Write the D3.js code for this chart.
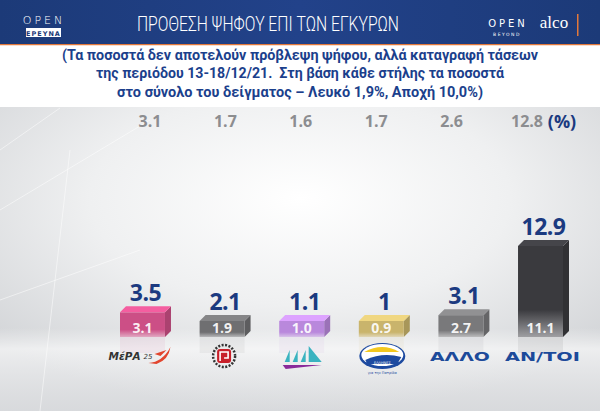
<!DOCTYPE html>
<html><head><meta charset="utf-8">
<script src="https://cdn.jsdelivr.net/npm/d3@7"></script>
<style>html,body{margin:0;padding:0;background:#fff;}svg{display:block;}</style>
</head><body>
<svg id="c" width="600" height="411"></svg>
<script>
const categories = ["ΜέΡΑ25", "Χρυσή Αυγή", "Νέα Δεξιά", "Έλληνες", "ΑΛΛΟ", "ΑΝ/ΤΟΙ"];
const totalValues = [3.5, 2.1, 1.1, 1, 3.1, 12.9];      // above the bars
const sampleValues = [3.1, 1.9, 1.0, 0.9, 2.7, 11.1];   // inside the bars
const previousValues = [3.1, 1.7, 1.6, 1.7, 2.6, 12.8]; // top grey row
const barColors = ["#cc4f86", "#6f6f71", "#b988dc", "#c9b46c", "#79797b", "#3a3a3e"];
const title = "ΠΡΟΘΕΣΗ ΨΗΦΟΥ ΕΠΙ ΤΩΝ ΕΓΚΥΡΩΝ";
const subtitle = ["(Τα ποσοστά δεν αποτελούν πρόβλεψη ψήφου, αλλά καταγραφή τάσεων",
                  "της περιόδου 13-18/12/21.\u00a0 Στη βάση κάθε στήλης τα ποσοστά",
                  "στο σύνολο του δείγματος – Λευκό 1,9%, Αποχή 10,0%)"];

const svg = d3.select("#c");
const W = 600, H = 411;
const defs = svg.append("defs");

// background
const bg = defs.append("radialGradient").attr("id","bg").attr("cx","0.5").attr("cy","0.3").attr("r","0.7");
bg.append("stop").attr("offset","0").attr("stop-color","#ffffff");
bg.append("stop").attr("offset","0.5").attr("stop-color","#eff0f1");
bg.append("stop").attr("offset","1").attr("stop-color","#d2d4d7");
svg.append("rect").attr("x",0).attr("y",107).attr("width",W).attr("height",H-107).attr("fill","url(#bg)");
const fl = defs.append("linearGradient").attr("id","floor").attr("x1",0).attr("y1",0).attr("x2",0).attr("y2",1);
fl.append("stop").attr("offset","0").attr("stop-color","#ffffff").attr("stop-opacity",0.0);
fl.append("stop").attr("offset","0.25").attr("stop-color","#ffffff").attr("stop-opacity",0.6);
fl.append("stop").attr("offset","1").attr("stop-color","#e6e7e9").attr("stop-opacity",0.3);
svg.append("rect").attr("x",0).attr("y",328).attr("width",W).attr("height",83).attr("fill","url(#floor)");
svg.append("path").attr("d","M0,150 L60,108 M0,210 L150,120 M40,411 L70,150 M0,300 L140,250")
  .attr("stroke","#ffffff").attr("stroke-opacity",0.5).attr("fill","none");

// header
const hg = defs.append("linearGradient").attr("id","hdr").attr("x1",0).attr("y1",0).attr("x2",1).attr("y2",0);
hg.append("stop").attr("offset","0").attr("stop-color","#1c3a78");
hg.append("stop").attr("offset","0.5").attr("stop-color","#22428a");
hg.append("stop").attr("offset","1").attr("stop-color","#1c3a78");
svg.append("rect").attr("x",0).attr("y",0).attr("width",W).attr("height",44).attr("fill","url(#hdr)");
svg.append("rect").attr("x",0).attr("y",44).attr("width",W).attr("height",1.5).attr("fill","#e2783a");
svg.append("rect").attr("x",0).attr("y",45.5).attr("width",W).attr("height",61.5).attr("fill","#ffffff");

svg.append("text").attr("x",268).attr("y",31).attr("text-anchor","middle")
  .attr("font-family","Roboto,sans-serif").attr("font-weight",300).attr("font-size",21)
  .attr("fill","#ffffff").attr("textLength",262).attr("lengthAdjust","spacingAndGlyphs").text(title);

// left logo OPEN ΕΡΕΥΝΑ
svg.append("text").attr("x",44).attr("y",24).attr("text-anchor","middle")
  .attr("font-family","'DejaVu Sans',sans-serif").attr("font-size",11).attr("letter-spacing",3)
  .attr("fill","#ffffff").attr("font-weight",300).text("OPEN");
svg.append("rect").attr("x",26).attr("y",28).attr("width",35).attr("height",9).attr("fill","#ffffff");
svg.append("text").attr("x",43.5).attr("y",35.5).attr("text-anchor","middle")
  .attr("font-family","'DejaVu Sans',sans-serif").attr("font-size",6.5).attr("font-weight","bold").attr("letter-spacing",1)
  .attr("fill","#1c3a78").text("ΕΡΕΥΝΑ");
// right logos
svg.append("text").attr("x",508).attr("y",27).attr("text-anchor","middle")
  .attr("font-family","'DejaVu Sans',sans-serif").attr("font-size",10).attr("letter-spacing",3)
  .attr("fill","#ffffff").text("OPEN");
svg.append("text").attr("x",507).attr("y",36).attr("text-anchor","middle")
  .attr("font-family","'DejaVu Sans',sans-serif").attr("font-size",4.5).attr("letter-spacing",1.5)
  .attr("fill","#ffffff").text("BEYOND");
svg.append("text").attr("x",554).attr("y",28).attr("text-anchor","middle")
  .attr("font-family","'Liberation Serif',serif").attr("font-size",17)
  .attr("fill","#ffffff").text("alco");
svg.append("rect").attr("x",577).attr("y",14).attr("width",1.5).attr("height",22).attr("fill","#e2783a");

// subtitle
const subY = [59.5, 78, 96.5];
const subW = [476, 408, 366];
svg.append("g").selectAll("text").data(subtitle).join("text")
  .attr("x",300).attr("y",(d,i)=>subY[i]).attr("text-anchor","middle")
  .attr("font-family","Roboto,sans-serif").attr("font-weight","bold").attr("font-size",15)
  .attr("fill","#1b3f8c").attr("textLength",(d,i)=>subW[i]).attr("lengthAdjust","spacingAndGlyphs")
  .text(d=>d);

// scales
const x = d3.scaleBand().domain(categories).range([120, 563]).paddingInner(0.435).paddingOuter(0);
const xPrev = d3.scalePoint().domain(categories).range([150, 527]);
const base = 337;
const y = d3.scaleLinear().domain([0, 12.9]).range([base, 246]);
const minH = 16;
const topY = v => Math.min(y(v), base - minH);
const depth = 6, rise = 6;

categories.forEach((c,i)=>{
  const g = defs.append("linearGradient").attr("id","bf"+i).attr("x1",0).attr("y1",0).attr("x2",0).attr("y2",1);
  const col = d3.color(barColors[i]);
  g.append("stop").attr("offset","0").attr("stop-color",col.formatHex());
  g.append("stop").attr("offset","0.7").attr("stop-color",col.formatHex());
  g.append("stop").attr("offset","1").attr("stop-color",d3.interpolateRgb(col,"#f2f2f3")(0.55));
});

const bars = svg.append("g").selectAll("g").data(categories).join("g");
bars.append("rect").attr("x",d=>x(d)).attr("y",base).attr("width",x.bandwidth()).attr("height",16)
  .attr("fill",(d,i)=>barColors[i]).attr("opacity",0.08);
bars.append("path").attr("d",(d,i)=>{
  const x1 = x(d)+x.bandwidth(), t = topY(totalValues[i]);
  return `M${x1},${t} L${x1+depth},${t-rise} L${x1+depth},${base-rise} L${x1},${base} Z`;
}).attr("fill",(d,i)=>d3.color(barColors[i]).darker(0.5));
bars.append("rect").attr("x",d=>x(d)).attr("y",(d,i)=>topY(totalValues[i]))
  .attr("width",x.bandwidth()).attr("height",(d,i)=>base-topY(totalValues[i]))
  .attr("fill",(d,i)=>`url(#bf${i})`);
bars.append("path").attr("d",(d,i)=>{
  const x0 = x(d), x1 = x0+x.bandwidth(), t = topY(totalValues[i]);
  return `M${x0},${t} L${x0+depth},${t-rise} L${x1+depth},${t-rise} L${x1},${t} Z`;
}).attr("fill",(d,i)=>d3.color(barColors[i]).brighter(0.5));
bars.append("text").attr("x",d=>x(d)+x.bandwidth()/2).attr("y",base-4).attr("text-anchor","middle")
  .attr("font-family","'Open Sans',sans-serif").attr("font-weight","bold").attr("font-size",14)
  .attr("fill","#ffffff").attr("fill-opacity",0.92).text((d,i)=>sampleValues[i].toFixed(1));
bars.append("text").attr("x",d=>x(d)+x.bandwidth()/2+3).attr("y",(d,i)=>topY(totalValues[i])-rise-5)
  .attr("text-anchor","middle")
  .attr("font-family","'Open Sans',sans-serif").attr("font-weight","bold").attr("font-size",23)
  .attr("fill","#1b3a80").attr("letter-spacing",-0.5).text((d,i)=>String(totalValues[i]));

// previous row
svg.append("g").selectAll("text").data(categories).join("text")
  .attr("x",d=>xPrev(d)).attr("y",127).attr("text-anchor","middle")
  .attr("font-family","'Open Sans',sans-serif").attr("font-weight","bold").attr("font-size",16)
  .attr("fill","#8c8d90").text((d,i)=>previousValues[i].toFixed(1));
svg.append("text").attr("x",562).attr("y",128).attr("text-anchor","middle")
  .attr("font-family","'Open Sans',sans-serif").attr("font-weight","bold").attr("font-size",18)
  .attr("fill","#1b3a80").text("(%)");

// party logos (approximations)
const ly = 356;
const logo = svg.append("g");
const cx = d => x(d)+x.bandwidth()/2;
const c0 = cx(categories[0]);
logo.append("text").attr("x",c0-34).attr("y",ly+4)
  .attr("font-family","'DejaVu Sans',sans-serif").attr("font-style","italic").attr("font-weight","bold")
  .attr("font-size",11).attr("fill","#333").attr("textLength",32).attr("lengthAdjust","spacingAndGlyphs").text("ΜέΡΑ");
logo.append("text").attr("x",c0+1).attr("y",ly+3).attr("font-family","'DejaVu Sans',sans-serif")
  .attr("font-size",7).attr("font-style","italic").attr("fill","#333").text("25");
logo.append("path").attr("d",`M${c0+6},${ly+7} Q${c0+20},${ly+6} ${c0+28},${ly-9} Q${c0+26},${ly+4} ${c0+14},${ly+8} Z`)
  .attr("fill","#e2452e");
logo.append("path").attr("d",`M${c0+12},${ly-2} L${c0+24},${ly-6} L${c0+18},${ly}`)
  .attr("fill","#e2452e");
// Χρυσή Αυγή
const c1 = cx(categories[1]) + 2;
logo.append("circle").attr("cx",c1).attr("cy",ly).attr("r",11).attr("fill","none").attr("stroke","#333").attr("stroke-width",2.5).attr("stroke-dasharray","2,1.5");
logo.append("rect").attr("x",c1-7).attr("y",ly-7).attr("width",14).attr("height",14).attr("rx",3).attr("fill","#c8202a");
logo.append("path").attr("d",`M${c1-4},${ly+5} L${c1-4},${ly-4} L${c1+4},${ly-4} L${c1+4},${ly+2} L${c1},${ly+2}`)
  .attr("fill","none").attr("stroke","#fff").attr("stroke-width",1.6);
// Νέα Δεξιά sails
const c2 = cx(categories[2]);
[-17,-9,-1].forEach(o=>{
  logo.append("path").attr("d",`M${c2+o},${ly+6} L${c2+o+5},${ly-6} L${c2+o+5},${ly+6} Z`).attr("fill","#3ab3c0");
});
logo.append("path").attr("d",`M${c2+7},${ly+6} L${c2+7},${ly-10} L${c2+20},${ly+6} Z`).attr("fill","#3ab3c0");
logo.append("path").attr("d",`M${c2-19},${ly+9} L${c2+20},${ly+9} L${c2-16},${ly+13} Z`).attr("fill","#8a2a9a");
// Έλληνες
const c3 = cx(categories[3]) + 1;
logo.append("ellipse").attr("cx",c3).attr("cy",ly).attr("rx",23).attr("ry",13).attr("fill","#1d4aa0");
logo.append("ellipse").attr("cx",c3).attr("cy",ly-1).attr("rx",21).attr("ry",11).attr("fill","#ffffff");
logo.append("path").attr("d",`M${c3-18},${ly-4} Q${c3},${ly-14} ${c3+17},${ly-4} Z`).attr("fill","#f3c81f");
logo.append("path").attr("d",`M${c3-17},${ly+4} Q${c3},${ly-4} ${c3+19},${ly+1} L${c3+15},${ly+8} L${c3-15},${ly+8} Z`).attr("fill","#1d4aa0");
logo.append("text").attr("x",c3).attr("y",ly+8).attr("text-anchor","middle").attr("font-family","'DejaVu Sans',sans-serif")
  .attr("font-size",3.5).attr("fill","#fff").text("ΕΛΛΗΝΕΣ");
logo.append("text").attr("x",c3).attr("y",ly+18).attr("text-anchor","middle").attr("font-family","'DejaVu Sans',sans-serif")
  .attr("font-size",3.5).attr("fill","#1d4aa0").text("για την Πατρίδα");
// ΑΛΛΟ, ΑΝ/ΤΟΙ
[4,5].forEach(i=>{
  logo.append("text").attr("x",cx(categories[i])+(i===4?-1:2)).attr("y",ly+5).attr("text-anchor","middle")
    .attr("font-family","'DejaVu Sans',sans-serif").attr("font-weight","bold").attr("font-size",12.5)
    .attr("fill","#1c4a9a").attr("textLength",i===4?60:75).attr("lengthAdjust","spacingAndGlyphs")
    .text(categories[i]);
});
</script>
</body></html>
